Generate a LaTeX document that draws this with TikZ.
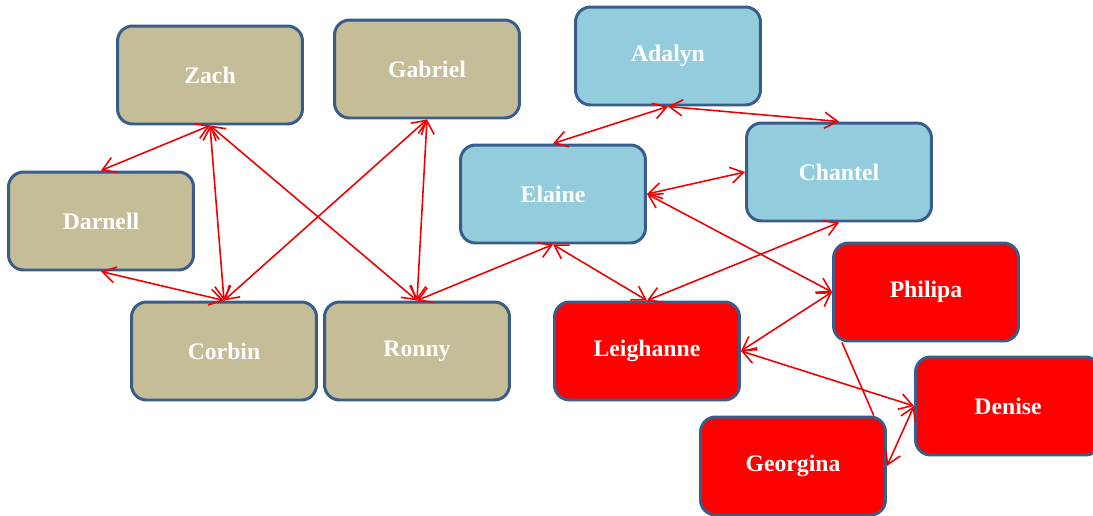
\documentclass[tikz,border=0pt]{standalone}
\usepackage{fontspec}
\setmainfont{Liberation Serif}
\usetikzlibrary{arrows.meta}
\definecolor{tanfill}{HTML}{C4BD97}
\definecolor{bluefill}{HTML}{93CDDD}
\definecolor{boxline}{HTML}{385D8A}
\definecolor{linkred}{HTML}{F00000}
\begin{document}
\begin{tikzpicture}[x=0.02cm,y=-0.02cm]
\tikzstyle{person}=[draw=boxline,line width=1.7pt,rounded corners=0.3cm,minimum width=3.7cm,minimum height=1.96cm,text=white,font=\fontsize{13.5}{16}\selectfont\bfseries]
\tikzstyle{link}=[linkred,line width=0.9pt,{Straight Barb[length=2.6mm,width=3.2mm]}-{Straight Barb[length=2.6mm,width=3.2mm]}]
\useasboundingbox (0,0) rectangle (1093,515);
\node [person,fill=tanfill] (zach) at (210,75) {Zach};
\node [person,fill=tanfill] (gabriel) at (427,69) {Gabriel};
\node [person,fill=tanfill] (darnell) at (101,221) {Darnell};
\node [person,fill=tanfill] (corbin) at (224,351) {Corbin};
\node [person,fill=tanfill] (ronny) at (417,351) {Ronny};
\node [person,fill=bluefill] (adalyn) at (668,56) {Adalyn};
\node [person,fill=bluefill] (elaine) at (553,194) {Elaine};
\node [person,fill=bluefill] (chantel) at (839,172) {Chantel};
\node [person,fill=red] (leighanne) at (647,351) {Leighanne};
\node [person,fill=red] (philipa) at (926,292) {Philipa};
\node [person,fill=red] (denise) at (1008,406) {Denise};
\node [person,fill=red] (georgina) at (793,466) {Georgina};
\draw [link] (zach.south) -- (darnell.north);
\draw [link] (zach.south) -- (corbin.north);
\draw [link] (zach.south) -- (ronny.north);
\draw [link] (gabriel.south) -- (corbin.north);
\draw [link] (gabriel.south) -- (ronny.north);
\draw [link] (darnell.south) -- (corbin.north);
\draw [link] (ronny.north) -- (elaine.south);
\draw [link] (adalyn.south) -- (elaine.north);
\draw [link] (adalyn.south) -- (chantel.north);
\draw [link] (elaine.east) -- (chantel.west);
\draw [link] (elaine.south) -- (leighanne.north);
\draw [link] (chantel.south) -- (leighanne.north);
\draw [link] (elaine.east) -- (philipa.west);
\draw [link] (leighanne.east) -- (philipa.west);
\draw [link] (leighanne.east) -- (denise.west);
\draw [linkred,line width=0.9pt] (philipa.211) -- (georgina.32);
\draw [link] (denise.west) -- (georgina.east);
\end{tikzpicture}
\end{document}
